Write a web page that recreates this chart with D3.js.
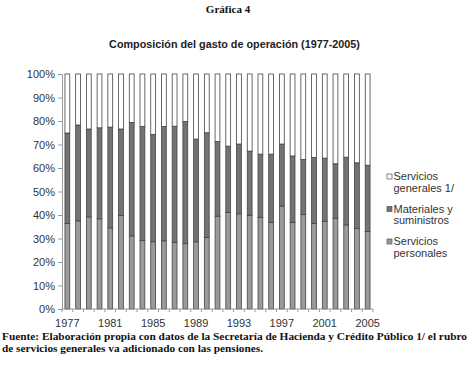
<!DOCTYPE html>
<html><head><meta charset="utf-8">
<script src="https://cdn.jsdelivr.net/npm/d3@7"></script>
<style>body{margin:0;background:#fff}svg{display:block}</style>
</head><body>
<script>
const years = d3.range(1977, 2006).map(String);
const personales = [36.4,37.5,39.2,38.4,34.5,39.8,31.1,29.1,28.6,29.0,28.4,27.8,28.6,30.5,39.5,41.1,40.5,39.9,38.9,36.8,43.8,36.8,40.2,36.4,37.2,38.6,35.8,34.2,33.0];
const materialesTop = [74.9,78.3,76.6,77.1,77.4,76.6,79.4,77.7,74.3,77.7,77.8,79.8,72.3,75.0,71.3,69.3,70.2,67.2,65.9,65.9,70.2,65.1,63.6,64.5,64.2,61.8,64.6,62.2,61.2];
const materiales = materialesTop.map((t,i)=>+(t-personales[i]).toFixed(1));
const generales = materialesTop.map(t=>+(100-t).toFixed(1));
const yTicks = [0,10,20,30,40,50,60,70,80,90,100];
const xLabels = ["1977","1981","1985","1989","1993","1997","2001","2005"];
const seriesNames = ["Servicios personales","Materiales y suministros","Servicios generales 1/"];
const legendLines = [["Servicios","generales 1/"],["Materiales y","suministros"],["Servicios","personales"]];
const colors = ["#9a9a9a","#737373","#ffffff"];

const W=474,H=369;
const svg=d3.select("body").append("svg").attr("width",W).attr("height",H);

const x=d3.scaleBand().domain(years).range([62,373]).paddingInner(0.55).paddingOuter(0.275);
const y=d3.scaleLinear().domain([0,100]).range([309,74]);

const rows=years.map((yr,i)=>({year:yr,p:personales[i],m:materiales[i],g:generales[i]}));
const stack=d3.stack().keys(["p","m","g"])(rows);

svg.append("g").selectAll("g").data(stack).join("g")
  .attr("fill",(d,i)=>colors[i])
  .selectAll("rect").data(d=>d).join("rect")
  .attr("x",d=>x(d.data.year))
  .attr("width",x.bandwidth())
  .attr("y",d=>y(d[1]))
  .attr("height",d=>y(d[0])-y(d[1]))
  .attr("stroke","#444").attr("stroke-width",0.8);

// y axis
const yAxis=svg.append("g").attr("transform","translate(62,0)")
  .call(d3.axisLeft(y).tickValues(yTicks).tickFormat(d=>d+"%").tickSize(4).tickPadding(3));
yAxis.select(".domain").attr("stroke","#999");
yAxis.selectAll(".tick line").attr("stroke","#999");
yAxis.selectAll("text").attr("font-family","Liberation Sans, Arial, sans-serif").attr("font-size",11).attr("fill","#333");

// x axis
const xg=svg.append("g").attr("transform","translate(0,309)");
xg.append("line").attr("x1",x.range()[0]).attr("x2",x.range()[1]).attr("stroke","#999");
const half=(x.step()-x.bandwidth())/2;
const bounds=years.map(d=>x(d)-half).concat([x.range()[1]]);
xg.selectAll("line.t").data(bounds).join("line").attr("class","t")
  .attr("x1",d=>d).attr("x2",d=>d).attr("y1",0).attr("y2",3).attr("stroke","#999");
xg.selectAll("text").data(xLabels).join("text")
  .attr("x",d=>x(d)+x.bandwidth()/2).attr("y",18)
  .attr("text-anchor","middle").attr("font-family","Liberation Sans, Arial, sans-serif")
  .attr("font-size",11).attr("fill","#333").text(d=>d);

// titles
svg.append("text").attr("x",228).attr("y",13).attr("text-anchor","middle")
  .attr("font-family","Liberation Serif, Times New Roman, serif").attr("font-weight","bold")
  .attr("font-size",11).attr("fill","#111").text("Gráfica 4");
svg.append("text").attr("x",234.5).attr("y",48).attr("text-anchor","middle")
  .attr("font-family","Liberation Sans, Arial, sans-serif").attr("font-weight","bold")
  .attr("font-size",10.8).attr("fill","#222").text("Composición del gasto de operación (1977-2005)");

// legend
const legOrder=[2,1,0];
const lg=svg.append("g");
legOrder.forEach((si,k)=>{
  const y0=180+k*32.5;
  lg.append("rect").attr("x",387).attr("y",y0-6).attr("width",5).attr("height",5)
    .attr("fill",colors[si]).attr("stroke","#555").attr("stroke-width",0.7);
  legendLines[k].forEach((ln,j)=>{
    lg.append("text").attr("x",393.5).attr("y",y0+j*11.5)
      .attr("font-family","Liberation Sans, Arial, sans-serif").attr("font-size",11)
      .attr("fill","#333").text(ln);
  });
});

// footer
const foot=["Fuente: Elaboración propia con datos de la Secretaría de Hacienda y Crédito Público 1/ el rubro","de servicios generales va adicionado con las pensiones."];
const footW=[465,261];
foot.forEach((t,i)=>{
  svg.append("text").attr("x",2).attr("y",340+i*11.5)
    .attr("font-family","Liberation Serif, Times New Roman, serif").attr("font-weight","bold")
    .attr("font-size",11).attr("fill","#111")
    .attr("textLength",footW[i]).attr("lengthAdjust","spacingAndGlyphs").text(t);
});
</script>
</body></html>
